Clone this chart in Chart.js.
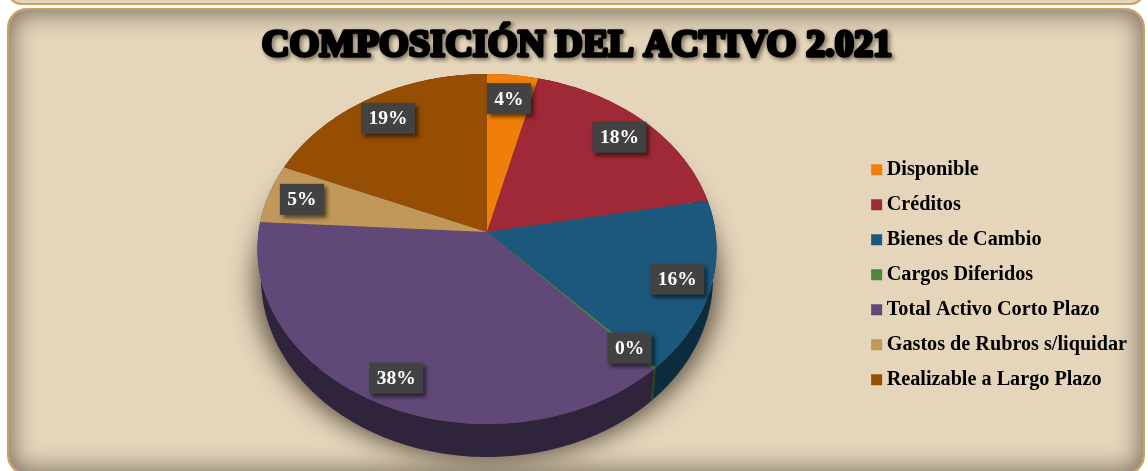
<!DOCTYPE html>
<html lang="es">
<head>
<meta charset="utf-8">
<title>Composición del Activo 2.021</title>
<script src="https://cdn.jsdelivr.net/npm/chart.js@4"></script>
<style>
html,body{margin:0;padding:0;background:#fff;width:1148px;height:471px;overflow:hidden}
.strip{position:absolute;left:7px;top:-24px;width:1134px;height:25px;border:2px solid #c9a063;border-radius:18px;background:#e4d5bb}
.panel{position:absolute;left:7px;top:8px;width:1134px;height:463px;border:2px solid #c9a063;border-radius:20px;background:#e4d5bb;
 box-shadow:inset 0 0 22px 5px rgba(75,65,50,.62)}
canvas{position:absolute;left:0;top:0}
</style>
</head>
<body>
<div class="strip"></div>
<div class="panel"></div>
<canvas id="c" width="1148" height="471"></canvas>
<script>
const titleText = "COMPOSICIÓN DEL ACTIVO 2.021";
const categories = ["Disponible","Créditos","Bienes de Cambio","Cargos Diferidos","Total Activo Corto Plazo","Gastos de Rubros s/liquidar","Realizable a Largo Plazo"];
const shares = [4.0, 18.2, 15.8, 0.2, 37.6, 5.4, 18.8];
const colours = ["#F07F09","#9F2936","#1B587C","#4E8542","#604878","#C19859","#964D04"];

// Perspective of the tilted pie
const TOP  = {cx:487, cy:249, rx:229.5, ry:175, ax:487, ay:232};
const BASE = {cx:487, cy:278, rx:226, ry:179};
const TITLE_PAD = {top:27, bottom:13};
const warp = t => t - 0.105 * Math.sin(t);                 // t: clockwise from 12 o'clock
const toT  = a => a + Math.PI / 2;
const rim  = (e, a) => { const t = warp(toT(a)); return [e.cx + e.rx * Math.sin(t), e.cy - e.ry * Math.cos(t)]; };

function shade(hex, f){
  const n = parseInt(hex.slice(1),16);
  return `rgb(${(n>>16)*f|0},${((n>>8)&255)*f|0},${(n&255)*f|0})`;
}

// The library's arc elements keep their angles; only the projection is changed.
Chart.ArcElement.prototype.draw = function(ctx){
  const {startAngle, endAngle} = this;
  const n = Math.max(2, Math.ceil((endAngle - startAngle) * 60));
  ctx.save();
  ctx.beginPath();
  ctx.moveTo(TOP.ax, TOP.ay);
  for (let i = 0; i <= n; i++){
    const p = rim(TOP, startAngle + (endAngle - startAngle) * i / n);
    ctx.lineTo(p[0], p[1]);
  }
  ctx.closePath();
  ctx.fillStyle = this.options.backgroundColor;
  ctx.fill();
  ctx.restore();
};

const pie3d = {
  id:'pie3d',
  beforeDraw(chart){                      // heavy title outline with drop shadow
    const ctx = chart.ctx, tb = chart.titleBlock, f = chart.options.plugins.title.font;
    ctx.save();
    ctx.font = `${f.weight} ${f.size}px ${f.family}`;
    ctx.textAlign = 'center'; ctx.textBaseline = 'middle';
    ctx.lineJoin = 'round'; ctx.lineWidth = 3.4; ctx.strokeStyle = '#000';
    ctx.shadowColor = 'rgba(40,30,15,.65)'; ctx.shadowBlur = 4; ctx.shadowOffsetX = 2; ctx.shadowOffsetY = 2;
    const x = (tb.left + tb.right) / 2, y = tb.top + TITLE_PAD.top + f.size / 2;
    ctx.strokeText(titleText, x, y);
    ctx.restore();
  },
  beforeDatasetsDraw(chart){
    const ctx = chart.ctx, arcs = chart.getDatasetMeta(0).data;
    ctx.save();
    ctx.beginPath();
    ctx.ellipse(BASE.cx - 3000, BASE.cy + 5, BASE.rx + 6, BASE.ry - 2, 0, 0, Math.PI * 2);
    ctx.fillStyle = '#000';
    ctx.shadowColor = 'rgba(70,60,45,.85)'; ctx.shadowBlur = 24; ctx.shadowOffsetX = 3000;
    ctx.fill();
    ctx.restore();
    arcs.forEach((arc, i) => {
      const s = arc.startAngle, e = arc.endAngle, n = Math.max(2, Math.ceil((e - s) * 60));
      ctx.beginPath();
      for (let k = 0; k <= n; k++){ const p = rim(TOP, s + (e - s) * k / n); k ? ctx.lineTo(p[0], p[1]) : ctx.moveTo(p[0], p[1]); }
      for (let k = n; k >= 0; k--){ const p = rim(BASE, s + (e - s) * k / n); ctx.lineTo(p[0], p[1]); }
      ctx.closePath();
      ctx.fillStyle = shade(colours[i], 0.5);
      ctx.fill();
    });
  },
  afterDatasetsDraw(chart){
    const ctx = chart.ctx, arcs = chart.getDatasetMeta(0).data;
    const total = shares.reduce((a, b) => a + b, 0);
    ctx.save();
    ctx.font = 'bold 19.5px "Liberation Serif"';
    ctx.textAlign = 'center'; ctx.textBaseline = 'middle';
    arcs.forEach((arc, i) => {
      const p = rim(TOP, (arc.startAngle + arc.endAngle) / 2);
      const x = TOP.ax + 0.85 * (p[0] - TOP.ax), y = TOP.ay + 0.85 * (p[1] - TOP.ay);
      const label = Math.round(shares[i] / total * 100) + '%';
      const w = ctx.measureText(label).width + 15, h = 31;
      ctx.save();
      ctx.shadowColor = 'rgba(0,0,0,.55)'; ctx.shadowBlur = 4; ctx.shadowOffsetX = 3; ctx.shadowOffsetY = 3;
      ctx.fillStyle = '#424242';
      ctx.fillRect(x - w / 2, y - h / 2, w, h);
      ctx.restore();
      ctx.fillStyle = '#fff';
      ctx.fillText(label, x, y + 1);
    });
    ctx.restore();
  }
};

new Chart(document.getElementById('c'), {
  type:'pie',
  plugins:[pie3d],
  data:{labels:categories, datasets:[{data:shares, backgroundColor:colours, borderWidth:0}]},
  options:{
    responsive:false, animation:false, devicePixelRatio:1,
    layout:{padding:{left:17, right:11, top:0, bottom:0}},
    plugins:{
      tooltip:{enabled:false},
      title:{display:true, text:titleText, color:'#000', padding:TITLE_PAD,
        font:{family:'"Liberation Serif"', size:38.4, weight:'bold', lineHeight:1}},
      legend:{position:'right', align:'center', fullSize:false,
        labels:{color:'#000', usePointStyle:true, pointStyle:'rect', boxWidth:0.01, boxHeight:11, padding:14.8,
          font:{family:'"Liberation Serif"', size:20.2, weight:'bold'}}}
    }
  }
});
</script>
</body>
</html>
